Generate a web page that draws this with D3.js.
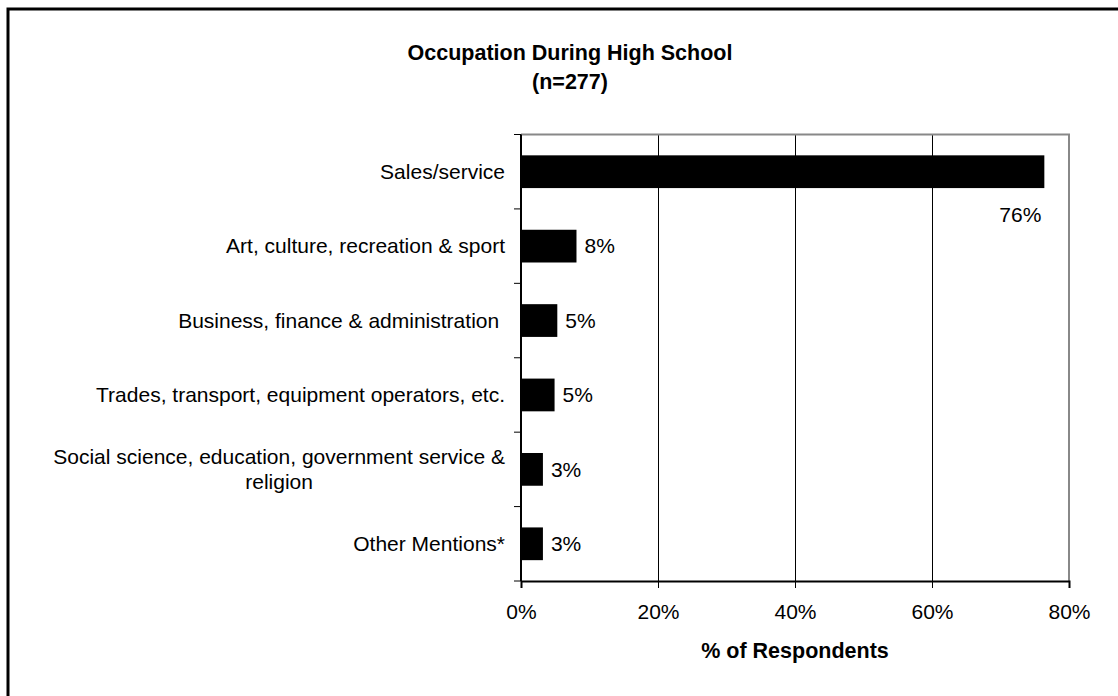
<!DOCTYPE html>
<html>
<head>
<meta charset="utf-8">
<script src="https://cdn.jsdelivr.net/npm/d3@7"></script>
<style>
  html, body { margin: 0; padding: 0; background: #fff; }
  svg { display: block; }
  text { font-family: Arial, "Liberation Sans", sans-serif; fill: #000; }
</style>
</head>
<body>
<svg id="chart" width="1118" height="696"></svg>
<script>
// Occupation during high school, share of respondents (%)
const categories = [
  ["Sales/service"],
  ["Art, culture, recreation & sport"],
  ["Business, finance & administration "],
  ["Trades, transport, equipment operators, etc."],
  ["Social science, education, government service &", "religion"],
  ["Other Mentions*"]
];
const values = [76.4, 8.1, 5.3, 4.9, 3.2, 3.2];
const xTicks = [0, 20, 40, 60, 80];
const titleLines = ["Occupation During High School", "(n=277)"];
const xAxisTitle = "% of Respondents";

const fontSize = 21;
const titleSize = 21.5;
const svg = d3.select("#chart");

// outer frame of the chart object
svg.append("rect")
  .attr("x", 8).attr("y", 9)
  .attr("width", 1300).attr("height", 900)
  .attr("fill", "none").attr("stroke", "#000").attr("stroke-width", 3);

const plot = { left: 521, right: 1069, top: 134.5, bottom: 581 };

const x = d3.scaleLinear().domain([0, 80]).range([plot.left, plot.right]);
const y = d3.scaleBand()
  .domain(d3.range(categories.length))
  .range([plot.top, plot.bottom])
  .paddingInner(0.56).paddingOuter(0.28);

// band boundaries for the category tick marks
const step = (plot.bottom - plot.top) / categories.length;

// vertical gridlines
svg.append("g").selectAll("line")
  .data(xTicks.filter(t => t > 0 && t < 80))
  .join("line")
  .attr("x1", d => x(d)).attr("x2", d => x(d))
  .attr("y1", plot.top).attr("y2", plot.bottom)
  .attr("stroke", "#000").attr("stroke-width", 1)
  .attr("shape-rendering", "crispEdges");

// top and right plot-area border
svg.append("path")
  .attr("d", `M${plot.left},${plot.top}H${plot.right}V${plot.bottom}`)
  .attr("fill", "none").attr("stroke", "#888").attr("stroke-width", 2);

// bars
svg.append("g").selectAll("rect")
  .data(values)
  .join("rect")
  .attr("x", x(0))
  .attr("y", (d, i) => y(i))
  .attr("width", d => x(d) - x(0))
  .attr("height", y.bandwidth())
  .attr("fill", "#000");

// value labels
svg.append("g").selectAll("text")
  .data(values)
  .join("text")
  .attr("font-size", fontSize)
  .attr("x", (d, i) => i === 0 ? x(d) - 3 : x(d) + 8)
  .attr("y", (d, i) => i === 0 ? y(i) + y.bandwidth() + 34 : y(i) + y.bandwidth() / 2)
  .attr("dy", (d, i) => i === 0 ? 0 : "0.35em")
  .attr("text-anchor", (d, i) => i === 0 ? "end" : "start")
  .text(d => Math.round(d) + "%");

// category axis (left)
const yAxisG = svg.append("g");
yAxisG.append("line")
  .attr("x1", plot.left).attr("x2", plot.left)
  .attr("y1", plot.top).attr("y2", plot.bottom)
  .attr("stroke", "#000").attr("stroke-width", 2);
yAxisG.selectAll("line.tick")
  .data(d3.range(categories.length + 1))
  .join("line").attr("class", "tick")
  .attr("x1", plot.left - 7).attr("x2", plot.left)
  .attr("y1", i => plot.top + i * step).attr("y2", i => plot.top + i * step)
  .attr("stroke", "#000").attr("stroke-width", 1);

const labelRight = 505;
const lineGap = 25;
categories.forEach((lines, i) => {
  const cy = y(i) + y.bandwidth() / 2;
  if (lines.length === 1) {
    yAxisG.append("text")
      .attr("font-size", fontSize)
      .attr("x", labelRight).attr("y", cy).attr("dy", "0.35em")
      .attr("text-anchor", "end")
      .style("white-space", "pre")
      .text(lines[0]);
  } else {
    const first = yAxisG.append("text")
      .attr("font-size", fontSize)
      .attr("x", labelRight).attr("y", cy - lineGap / 2).attr("dy", "0.35em")
      .attr("text-anchor", "end")
      .text(lines[0]);
    const w = first.node().getComputedTextLength();
    lines.slice(1).forEach((ln, k) => {
      yAxisG.append("text")
        .attr("font-size", fontSize)
        .attr("x", labelRight - w / 2)
        .attr("y", cy - lineGap / 2 + (k + 1) * lineGap).attr("dy", "0.35em")
        .attr("text-anchor", "middle")
        .text(ln);
    });
  }
});

// value axis (bottom)
const xAxis = d3.axisBottom(x)
  .tickValues(xTicks)
  .tickSize(7)
  .tickFormat(d => d + "%");
const xAxisG = svg.append("g")
  .attr("transform", `translate(0,${plot.bottom})`)
  .call(xAxis);
xAxisG.select(".domain").attr("stroke", "#000").attr("stroke-width", 2);
xAxisG.selectAll(".tick line").attr("stroke", "#000");
xAxisG.selectAll(".tick text")
  .attr("font-size", fontSize)
  .attr("font-family", "Arial, 'Liberation Sans', sans-serif")
  .attr("fill", "#000")
  .attr("y", 0).attr("dy", 0)
  .attr("transform", "translate(0,38)");

// axis title
svg.append("text")
  .attr("x", 795).attr("y", 658)
  .attr("text-anchor", "middle")
  .attr("font-size", titleSize)
  .attr("font-weight", "bold")
  .text(xAxisTitle);

// chart title
titleLines.forEach((t, i) => {
  svg.append("text")
    .attr("x", 570).attr("y", 60 + i * 29)
    .attr("text-anchor", "middle")
    .attr("font-size", titleSize)
    .attr("font-weight", "bold")
    .text(t);
});
</script>
</body>
</html>
